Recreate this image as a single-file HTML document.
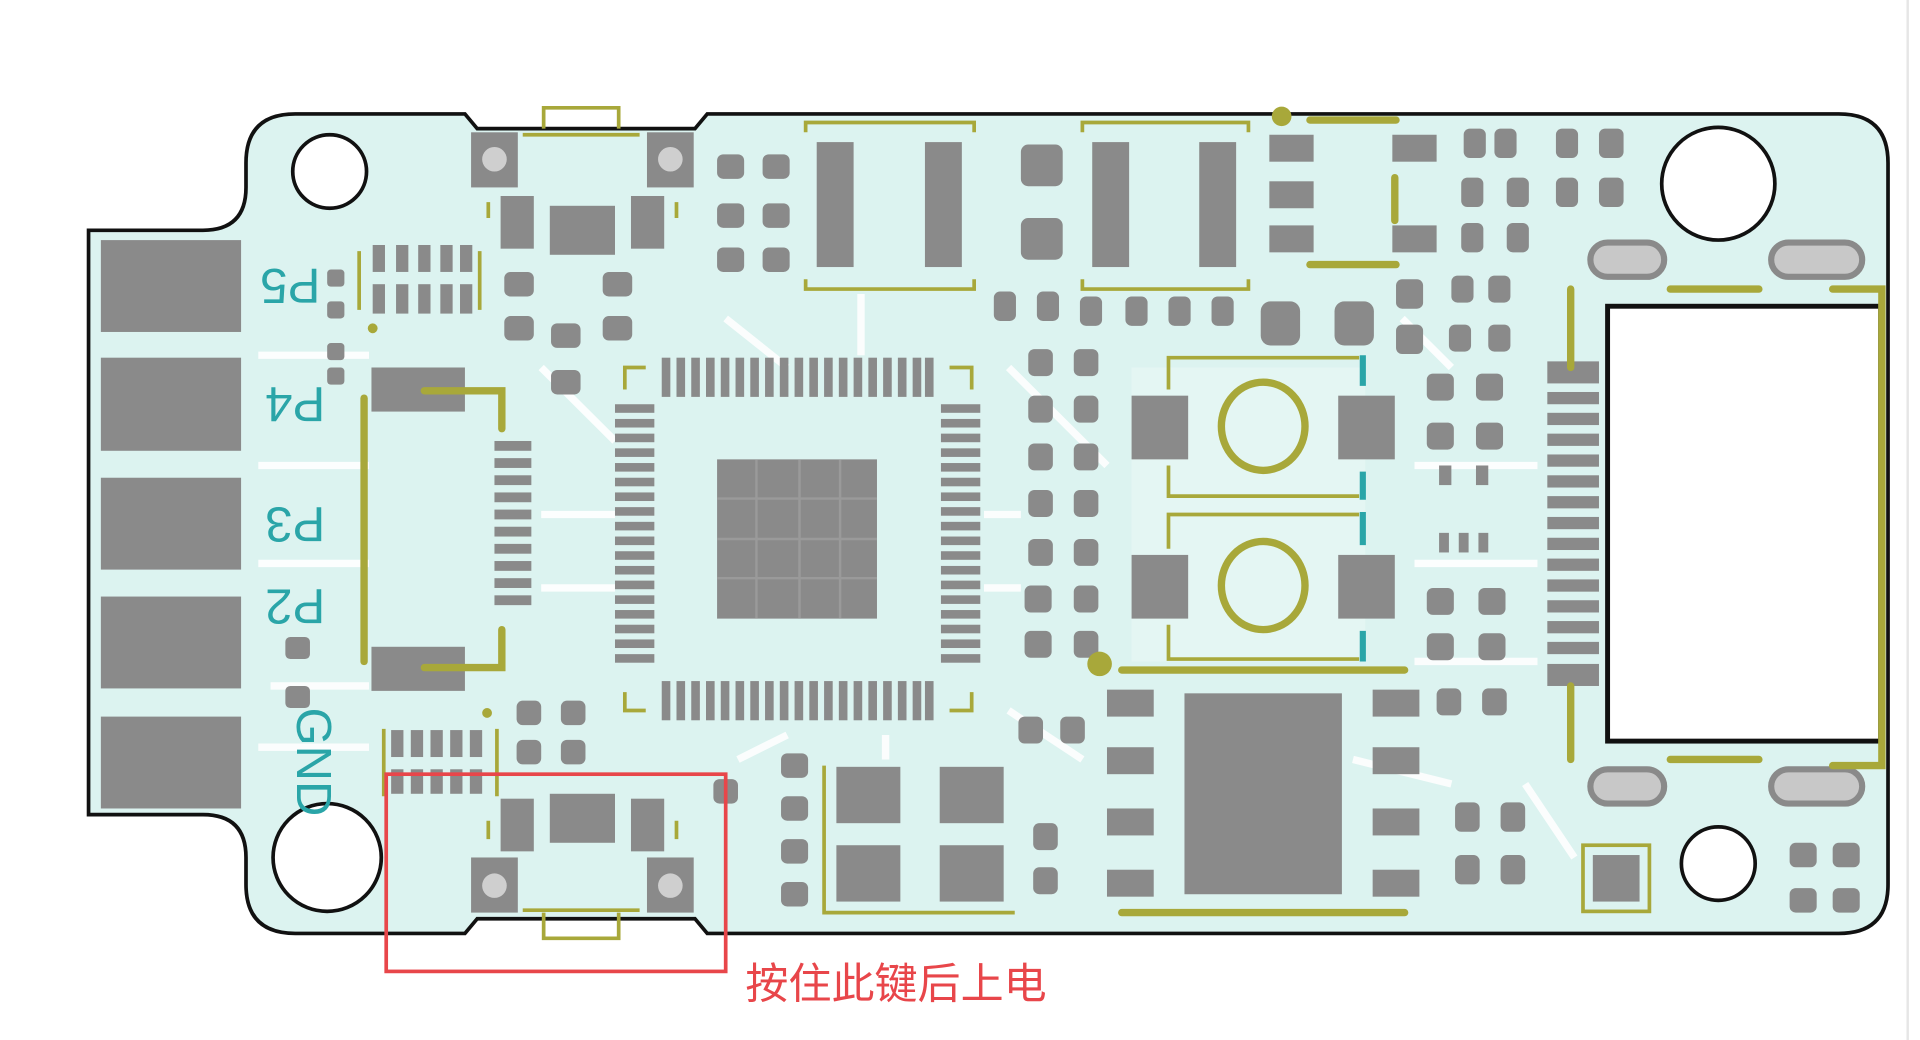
<!DOCTYPE html>
<html><head><meta charset="utf-8"><style>
html,body{margin:0;padding:0;background:#fff;width:1920px;height:1040px;overflow:hidden}
svg{display:block}
</style></head><body>
<svg width="1920" height="1040" viewBox="0 0 1561 849" preserveAspectRatio="none" xmlns="http://www.w3.org/2000/svg">
<rect width="1561" height="849" fill="#fff"/>
<line x1="1551" y1="0" x2="1551" y2="849" stroke="#e6e6e6" stroke-width="2"/>
<path d="M240 93 L378 93 L388 105 L565 105 L575 93 L1495 93 Q1535 93 1535 133 L1535 722 Q1535 762 1495 762 L575 762 L565 750 L388 750 L378 762 L240 762 Q200 762 200 722 L200 700 Q200 665 165 665 L72 665 L72 188 L165 188 Q200 188 200 153 L200 133 Q200 93 240 93 Z" fill="#dcf3f0" stroke="#111" stroke-width="3"/>
<g stroke="#fff" stroke-width="6" fill="none" opacity="0.9">
<path d="M210 290 H300 M210 380 H300 M210 460 H300 M220 560 H300"/>
<path d="M440 300 L500 360 M440 420 H500 M440 480 H500 M590 260 L640 300 M700 240 V290 M820 300 L900 380 M800 420 H830 M800 480 H830"/>
<path d="M600 620 L640 600 M720 600 V620 M820 580 L880 620 M1140 260 L1180 300 M1150 380 H1250 M1150 460 H1250 M1150 540 H1250"/>
<path d="M1240 640 L1280 700 M1100 620 L1180 640 M210 610 H300"/>
</g>
<rect x="920" y="300" width="190" height="240" fill="#e4f6f3"/>
<g fill="#8a8a8a">
<rect x="82" y="196" width="114" height="75"/>
<rect x="82" y="292" width="114" height="76"/>
<rect x="82" y="390" width="114" height="75"/>
<rect x="82" y="487" width="114" height="75"/>
<rect x="82" y="585" width="114" height="75"/>
</g>
<g fill="#fff" stroke="#111" stroke-width="3">
<ellipse cx="268" cy="140" rx="30" ry="30"/>
<ellipse cx="1397" cy="150" rx="46" ry="46"/>
<ellipse cx="266" cy="700" rx="44" ry="44"/>
<ellipse cx="1397" cy="705" rx="30" ry="30"/>
</g>
<g fill="#2aa5a8" font-family="Liberation Sans, sans-serif" font-size="40">
<text transform="translate(236,230) rotate(180)" text-anchor="middle" dominant-baseline="middle">P5</text>
<text transform="translate(240,327) rotate(180)" text-anchor="middle" dominant-baseline="middle">P4</text>
<text transform="translate(240,425) rotate(180)" text-anchor="middle" dominant-baseline="middle">P3</text>
<text transform="translate(240,492) rotate(180)" text-anchor="middle" dominant-baseline="middle">P2</text>
<text transform="translate(252,622) rotate(90)" text-anchor="middle" dominant-baseline="middle">GND</text>
</g>
<g fill="#8a8a8a">
<rect x="383" y="108" width="38" height="45"/><rect x="526" y="108" width="38" height="45"/>
<rect x="383" y="700" width="38" height="45"/><rect x="526" y="700" width="38" height="45"/>
<rect x="407" y="160" width="27" height="43"/><rect x="447" y="168" width="53" height="40"/><rect x="513" y="160" width="27" height="43"/>
<rect x="407" y="652" width="27" height="43"/><rect x="447" y="648" width="53" height="40"/><rect x="513" y="652" width="27" height="43"/>
</g>
<g fill="#cfcfcf"><circle cx="402" cy="130" r="10"/><circle cx="545" cy="130" r="10"/><circle cx="402" cy="723" r="10"/><circle cx="545" cy="723" r="10"/></g>
<g fill="none" stroke="#a8a83a" stroke-width="3">
<path d="M442 105 V88 H503 V105 M425 110 H520"/>
<path d="M442 745 V766 H503 V745 M425 743 H520"/>
<path d="M397 165 V178 M550 165 V178 M397 670 V685 M550 670 V685"/>
</g>
<g fill="#8a8a8a">
<rect x="303" y="200" width="10" height="22"/><rect x="322" y="200" width="10" height="22"/><rect x="340" y="200" width="10" height="22"/><rect x="358" y="200" width="10" height="22"/><rect x="374" y="200" width="10" height="22"/>
<rect x="303" y="232" width="10" height="24"/><rect x="322" y="232" width="10" height="24"/><rect x="340" y="232" width="10" height="24"/><rect x="358" y="232" width="10" height="24"/><rect x="374" y="232" width="10" height="24"/>
<rect x="318" y="596" width="10" height="22"/><rect x="334" y="596" width="10" height="22"/><rect x="350" y="596" width="10" height="22"/><rect x="366" y="596" width="10" height="22"/><rect x="382" y="596" width="10" height="22"/>
<rect x="318" y="628" width="10" height="20"/><rect x="334" y="628" width="10" height="20"/><rect x="350" y="628" width="10" height="20"/><rect x="366" y="628" width="10" height="20"/><rect x="382" y="628" width="10" height="20"/>
<rect x="266" y="220" width="14" height="14" rx="3"/><rect x="266" y="246" width="14" height="14" rx="3"/>
<rect x="266" y="280" width="14" height="14" rx="3"/><rect x="266" y="300" width="14" height="14" rx="3"/>
<rect x="232" y="520" width="20" height="18" rx="4"/><rect x="232" y="560" width="20" height="18" rx="4"/>
</g>
<g stroke="#a8a83a" stroke-width="3" fill="none"><path d="M292 205 V253 M390 205 V253 M312 595 V650 M404 595 V650"/></g>
<circle cx="303" cy="268" r="4" fill="#a8a83a"/><circle cx="396" cy="582" r="4" fill="#a8a83a"/>
<g fill="#8a8a8a">
<rect x="302" y="300" width="76" height="36"/><rect x="302" y="528" width="76" height="36"/>
</g>
<g fill="#8a8a8a">
<rect x="402" y="360" width="30" height="8"/><rect x="402" y="374" width="30" height="8"/><rect x="402" y="388" width="30" height="8"/><rect x="402" y="402" width="30" height="8"/><rect x="402" y="416" width="30" height="8"/><rect x="402" y="430" width="30" height="8"/><rect x="402" y="444" width="30" height="8"/><rect x="402" y="458" width="30" height="8"/><rect x="402" y="472" width="30" height="8"/><rect x="402" y="486" width="30" height="8"/>
</g>
<g stroke="#a8a83a" stroke-width="6" fill="none" stroke-linecap="round">
<path d="M345 319 H408 V350"/><path d="M345 545 H408 V514"/><path d="M296 325 V540"/>
</g>
<g fill="#8a8a8a">
<rect x="410" y="222" width="24" height="20" rx="5"/><rect x="490" y="222" width="24" height="20" rx="5"/>
<rect x="410" y="258" width="24" height="20" rx="5"/><rect x="490" y="258" width="24" height="20" rx="5"/>
<rect x="448" y="264" width="24" height="20" rx="5"/><rect x="448" y="302" width="24" height="20" rx="5"/>
<rect x="583" y="126" width="22" height="20" rx="5"/><rect x="620" y="126" width="22" height="20" rx="5"/>
<rect x="583" y="166" width="22" height="20" rx="5"/><rect x="620" y="166" width="22" height="20" rx="5"/>
<rect x="583" y="202" width="22" height="20" rx="5"/><rect x="620" y="202" width="22" height="20" rx="5"/>
<rect x="420" y="572" width="20" height="20" rx="5"/><rect x="456" y="572" width="20" height="20" rx="5"/>
<rect x="420" y="604" width="20" height="20" rx="5"/><rect x="456" y="604" width="20" height="20" rx="5"/>
<rect x="580" y="636" width="20" height="20" rx="5"/>
</g>
<g fill="#8a8a8a">
<rect x="583" y="375" width="130" height="130"/>
</g>
<g stroke="#9a9a9a" stroke-width="2"><path d="M615 375 V505 M650 375 V505 M683 375 V505 M583 407 H713 M583 440 H713 M583 472 H713"/></g>
<g id="pinsT" fill="#8a8a8a">
<rect x="538" y="292" width="7" height="32"/><rect x="550" y="292" width="7" height="32"/><rect x="562" y="292" width="7" height="32"/><rect x="574" y="292" width="7" height="32"/><rect x="586" y="292" width="7" height="32"/><rect x="598" y="292" width="7" height="32"/><rect x="610" y="292" width="7" height="32"/><rect x="622" y="292" width="7" height="32"/><rect x="634" y="292" width="7" height="32"/><rect x="646" y="292" width="7" height="32"/><rect x="658" y="292" width="7" height="32"/><rect x="670" y="292" width="7" height="32"/><rect x="682" y="292" width="7" height="32"/><rect x="694" y="292" width="7" height="32"/><rect x="706" y="292" width="7" height="32"/><rect x="718" y="292" width="7" height="32"/><rect x="730" y="292" width="7" height="32"/><rect x="742" y="292" width="7" height="32"/><rect x="752" y="292" width="7" height="32"/>
</g>
<use href="#pinsT" transform="translate(0,264)"/>
<g id="pinsL" fill="#8a8a8a">
<rect x="500" y="330" width="32" height="7"/><rect x="500" y="342" width="32" height="7"/><rect x="500" y="354" width="32" height="7"/><rect x="500" y="366" width="32" height="7"/><rect x="500" y="378" width="32" height="7"/><rect x="500" y="390" width="32" height="7"/><rect x="500" y="402" width="32" height="7"/><rect x="500" y="414" width="32" height="7"/><rect x="500" y="426" width="32" height="7"/><rect x="500" y="438" width="32" height="7"/><rect x="500" y="450" width="32" height="7"/><rect x="500" y="462" width="32" height="7"/><rect x="500" y="474" width="32" height="7"/><rect x="500" y="486" width="32" height="7"/><rect x="500" y="498" width="32" height="7"/><rect x="500" y="510" width="32" height="7"/><rect x="500" y="522" width="32" height="7"/><rect x="500" y="534" width="32" height="7"/>
</g>
<use href="#pinsL" transform="translate(265,0)"/>
<g stroke="#a8a83a" stroke-width="3" fill="none"><path d="M508 318 V300 H525 M790 318 V300 H772 M508 565 V580 H525 M790 565 V580 H772"/></g>
<g fill="#8a8a8a">
<rect x="664" y="116" width="30" height="102"/><rect x="752" y="116" width="30" height="102"/>
<rect x="888" y="116" width="30" height="102"/><rect x="975" y="116" width="30" height="102"/>
<rect x="830" y="118" width="34" height="34" rx="6"/><rect x="830" y="178" width="34" height="34" rx="6"/>
<rect x="1032" y="110" width="36" height="22"/><rect x="1032" y="148" width="36" height="22"/><rect x="1032" y="184" width="36" height="22"/>
<rect x="1132" y="110" width="36" height="22"/><rect x="1132" y="184" width="36" height="22"/>
</g>
<g stroke="#a8a83a" stroke-width="3" fill="none">
<path d="M655 108 V100 H792 V108 M655 228 V236 H792 V228 M880 108 V100 H1015 V108 M880 228 V236 H1015 V228"/>
</g>
<g stroke="#a8a83a" stroke-width="6" stroke-linecap="round"><path d="M1065 98 H1135 M1065 216 H1135 M1134 145 V180"/></g>
<circle cx="1042" cy="95" r="8" fill="#a8a83a"/>
<g fill="#8a8a8a">
<rect x="1190" y="105" width="18" height="24" rx="5"/><rect x="1215" y="105" width="18" height="24" rx="5"/><rect x="1265" y="105" width="18" height="24" rx="5"/><rect x="1300" y="105" width="20" height="24" rx="5"/>
<rect x="1188" y="145" width="18" height="24" rx="5"/><rect x="1225" y="145" width="18" height="24" rx="5"/><rect x="1265" y="145" width="18" height="24" rx="5"/><rect x="1300" y="145" width="20" height="24" rx="5"/>
<rect x="1188" y="182" width="18" height="24" rx="5"/><rect x="1225" y="182" width="18" height="24" rx="5"/>
<rect x="808" y="238" width="18" height="24" rx="5"/><rect x="843" y="238" width="18" height="24" rx="5"/><rect x="878" y="242" width="18" height="24" rx="5"/><rect x="915" y="242" width="18" height="24" rx="5"/><rect x="950" y="242" width="18" height="24" rx="5"/><rect x="985" y="242" width="18" height="24" rx="5"/>
<rect x="1025" y="246" width="32" height="36" rx="8"/><rect x="1085" y="246" width="32" height="36" rx="8"/>
<rect x="1135" y="228" width="22" height="24" rx="5"/><rect x="1180" y="225" width="18" height="22" rx="5"/><rect x="1210" y="225" width="18" height="22" rx="5"/>
<rect x="1135" y="265" width="22" height="24" rx="5"/><rect x="1178" y="265" width="18" height="22" rx="5"/><rect x="1210" y="265" width="18" height="22" rx="5"/>
</g>
<g fill="#8a8a8a">
<rect x="836" y="285" width="20" height="22" rx="5"/><rect x="873" y="285" width="20" height="22" rx="5"/>
<rect x="836" y="323" width="20" height="22" rx="5"/><rect x="873" y="323" width="20" height="22" rx="5"/>
<rect x="836" y="362" width="20" height="22" rx="5"/><rect x="873" y="362" width="20" height="22" rx="5"/>
<rect x="836" y="400" width="20" height="22" rx="5"/><rect x="873" y="400" width="20" height="22" rx="5"/>
<rect x="836" y="440" width="20" height="22" rx="5"/><rect x="873" y="440" width="20" height="22" rx="5"/>
<rect x="833" y="478" width="22" height="22" rx="5"/><rect x="873" y="478" width="20" height="22" rx="5"/>
<rect x="833" y="515" width="22" height="22" rx="5"/><rect x="873" y="515" width="20" height="22" rx="5"/>
</g>
<g fill="#8a8a8a">
<rect x="920" y="323" width="46" height="52"/><rect x="1088" y="323" width="46" height="52"/>
<rect x="920" y="453" width="46" height="52"/><rect x="1088" y="453" width="46" height="52"/>
</g>
<g fill="none" stroke="#a8a83a" stroke-width="6">
<ellipse cx="1027" cy="348" rx="34" ry="36"/><ellipse cx="1027" cy="478" rx="34" ry="36"/>
</g>
<g fill="none" stroke="#a8a83a" stroke-width="3">
<path d="M950 318 V292 H1105 M950 380 V405 H1105 M950 448 V420 H1105 M950 510 V538 H1105"/>
</g>
<g stroke="#2aa5a8" stroke-width="5"><path d="M1108 290 V315 M1108 385 V408 M1108 418 V445 M1108 515 V540"/></g>
<g stroke="#a8a83a" stroke-width="6" stroke-linecap="round"><path d="M912 547 H1142 M912 745 H1142"/></g>
<circle cx="894" cy="542" r="10" fill="#a8a83a"/>
<g fill="#8a8a8a">
<rect x="1160" y="305" width="22" height="22" rx="5"/><rect x="1200" y="305" width="22" height="22" rx="5"/>
<rect x="1160" y="345" width="22" height="22" rx="5"/><rect x="1200" y="345" width="22" height="22" rx="5"/>
<rect x="1170" y="380" width="10" height="16"/><rect x="1200" y="380" width="10" height="16"/>
<rect x="1170" y="435" width="8" height="16"/><rect x="1186" y="435" width="8" height="16"/><rect x="1202" y="435" width="8" height="16"/>
<rect x="1160" y="480" width="22" height="22" rx="5"/><rect x="1202" y="480" width="22" height="22" rx="5"/>
<rect x="1160" y="517" width="22" height="22" rx="5"/><rect x="1202" y="517" width="22" height="22" rx="5"/>
<rect x="1168" y="562" width="20" height="22" rx="5"/><rect x="1205" y="562" width="20" height="22" rx="5"/>
</g>
<rect x="1307" y="250" width="222" height="355" fill="#fff" stroke="#111" stroke-width="4"/>
<g fill="#8a8a8a">
<rect x="1258" y="295" width="42" height="18"/><rect x="1258" y="320" width="42" height="10"/><rect x="1258" y="337" width="42" height="10"/><rect x="1258" y="354" width="42" height="10"/><rect x="1258" y="371" width="42" height="10"/><rect x="1258" y="388" width="42" height="10"/><rect x="1258" y="405" width="42" height="10"/><rect x="1258" y="422" width="42" height="10"/><rect x="1258" y="439" width="42" height="10"/><rect x="1258" y="456" width="42" height="10"/><rect x="1258" y="473" width="42" height="10"/><rect x="1258" y="490" width="42" height="10"/><rect x="1258" y="507" width="42" height="10"/><rect x="1258" y="524" width="42" height="10"/><rect x="1258" y="542" width="42" height="18"/>
</g>
<g fill="#c8c8c8" stroke="#8a8a8a" stroke-width="5">
<rect x="1293" y="198" width="60" height="28" rx="14"/><rect x="1440" y="198" width="74" height="28" rx="14"/>
<rect x="1293" y="628" width="60" height="28" rx="14"/><rect x="1440" y="628" width="74" height="28" rx="14"/>
</g>
<g stroke="#a8a83a" stroke-width="6" stroke-linecap="round" fill="none">
<path d="M1358 236 H1430 M1490 236 H1530 V625 H1490 M1358 620 H1430"/>
<path d="M1277 236 V300 M1277 560 V620"/>
</g>
<g fill="#8a8a8a">
<rect x="680" y="626" width="52" height="46"/><rect x="764" y="626" width="52" height="46"/>
<rect x="680" y="690" width="52" height="46"/><rect x="764" y="690" width="52" height="46"/>
<rect x="963" y="566" width="128" height="164"/>
<rect x="900" y="563" width="38" height="22"/><rect x="900" y="610" width="38" height="22"/><rect x="900" y="660" width="38" height="22"/><rect x="900" y="710" width="38" height="22"/>
<rect x="1116" y="563" width="38" height="22"/><rect x="1116" y="610" width="38" height="22"/><rect x="1116" y="660" width="38" height="22"/><rect x="1116" y="710" width="38" height="22"/>
<rect x="635" y="615" width="22" height="20" rx="5"/><rect x="635" y="650" width="22" height="20" rx="5"/><rect x="635" y="685" width="22" height="20" rx="5"/><rect x="635" y="720" width="22" height="20" rx="5"/>
<rect x="828" y="585" width="20" height="22" rx="5"/><rect x="862" y="585" width="20" height="22" rx="5"/>
<rect x="840" y="672" width="20" height="22" rx="5"/><rect x="840" y="708" width="20" height="22" rx="5"/>
<rect x="1183" y="655" width="20" height="24" rx="5"/><rect x="1220" y="655" width="20" height="24" rx="5"/>
<rect x="1183" y="698" width="20" height="24" rx="5"/><rect x="1220" y="698" width="20" height="24" rx="5"/>
<rect x="1455" y="688" width="22" height="20" rx="5"/><rect x="1490" y="688" width="22" height="20" rx="5"/>
<rect x="1455" y="725" width="22" height="20" rx="5"/><rect x="1490" y="725" width="22" height="20" rx="5"/>
<rect x="1295" y="698" width="38" height="38"/>
</g>
<rect x="1287" y="690" width="54" height="54" fill="none" stroke="#a8a83a" stroke-width="3"/>
<g stroke="#a8a83a" stroke-width="3" fill="none"><path d="M670 625 V745 H825 M670 745 V625"/></g>
<rect x="314" y="632" width="276" height="161" fill="none" stroke="#e8464a" stroke-width="3"/>
<text x="606" y="815" font-family="Liberation Sans, 'Noto Sans CJK SC', sans-serif" font-size="35" fill="#e8464a">按住此键后上电</text>
</svg>
</body></html>
